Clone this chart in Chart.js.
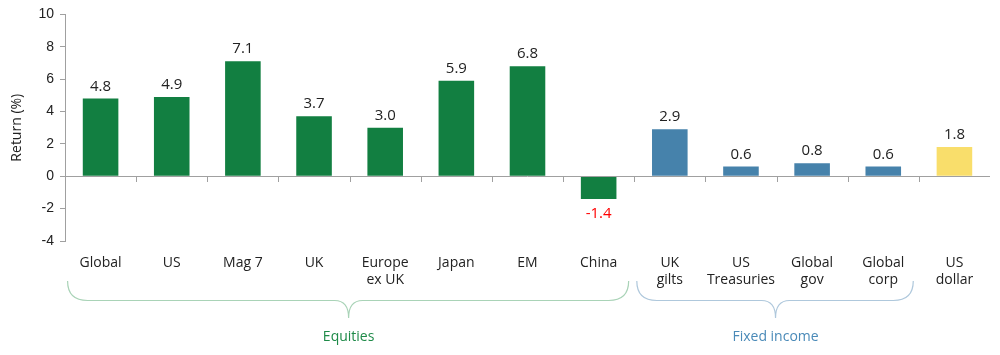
<!DOCTYPE html>
<html>
<head>
<meta charset="utf-8">
<script src="https://cdn.jsdelivr.net/npm/chart.js@4/dist/chart.umd.min.js"></script>
<style>
html,body{margin:0;padding:0;background:#fff;}
#wrap{width:1000px;height:355px;position:relative;}
</style>
</head>
<body>
<div id="wrap"><canvas id="c"></canvas></div>
<script>
const categories = [['Global'], ['US'], ['Mag 7'], ['UK'], ['Europe','ex UK'], ['Japan'], ['EM'], ['China'], ['UK','gilts'], ['US','Treasuries'], ['Global','gov'], ['Global','corp'], ['US','dollar']];
const returns = [4.8, 4.9, 7.1, 3.7, 3.0, 5.9, 6.8, -1.4, 2.9, 0.6, 0.8, 0.6, 1.8];
const barColors = ['#127F41','#127F41','#127F41','#127F41','#127F41','#127F41','#127F41','#127F41','#4682AB','#4682AB','#4682AB','#4682AB','#F9DE6B'];
const yTicks = [10, 8, 6, 4, 2, 0, -2, -4];
const groupLabels = ['Equities', 'Fixed income'];
const groupStart = [0, 8];
const groupEnd = [7, 11];
const groupLabelColors = ['#1E8A48', '#4A8AB8'];
const groupBraceColors = ['#A9D3B7', '#AFC8DC'];

const helperPlugin = {
  id: 'helper',
  afterDatasetsDraw(chart) {
    const ctx = chart.ctx;
    const x = chart.scales.x, y = chart.scales.y;
    const area = chart.chartArea;
    const y0 = y.getPixelForValue(0);
    const step = x.getPixelForValue(1) - x.getPixelForValue(0);
    ctx.save();
    ctx.strokeStyle = '#A0A0A0';
    ctx.lineWidth = 1;
    ctx.beginPath();
    ctx.moveTo(area.left, Math.round(y0) + 0.5);
    ctx.lineTo(area.right, Math.round(y0) + 0.5);
    for (let i = 1; i < categories.length; i++) {
      const bx = Math.round(x.getPixelForValue(i) - step / 2) + 0.5;
      ctx.moveTo(bx, Math.round(y0));
      ctx.lineTo(bx, Math.round(y0) + 6);
    }
    ctx.stroke();
    const meta = chart.getDatasetMeta(0);
    ctx.font = '15px "Open Sans"';
    ctx.textAlign = 'center';
    ctx.textBaseline = 'alphabetic';
    meta.data.forEach((bar, i) => {
      const v = returns[i];
      if (v >= 0) {
        ctx.fillStyle = '#222';
        ctx.fillText(v.toFixed(1), bar.x, bar.y - 8);
      } else {
        ctx.fillStyle = '#FF0000';
        ctx.fillText(v.toFixed(1), bar.x, bar.y + 19);
      }
    });
    const top = 281, mid = 300.5, tip = 318, r = 20, r2 = 14;
    for (let g = 0; g < groupLabels.length; g++) {
      const x1 = x.getPixelForValue(groupStart[g]) - 33;
      const x2 = x.getPixelForValue(groupEnd[g]) + 30;
      const xm = (x.getPixelForValue(groupStart[g]) + x.getPixelForValue(groupEnd[g])) / 2 - 1;
      ctx.strokeStyle = groupBraceColors[g];
      ctx.lineWidth = 1.2;
      ctx.beginPath();
      ctx.moveTo(x1, top);
      ctx.quadraticCurveTo(x1, mid, x1 + r, mid);
      ctx.lineTo(xm - r2, mid);
      ctx.quadraticCurveTo(xm, mid, xm, tip);
      ctx.quadraticCurveTo(xm, mid, xm + r2, mid);
      ctx.lineTo(x2 - r, mid);
      ctx.quadraticCurveTo(x2, mid, x2, top);
      ctx.stroke();
      ctx.fillStyle = groupLabelColors[g];
      ctx.font = '14px "Open Sans"';
      ctx.textBaseline = 'middle';
      ctx.textAlign = 'center';
      ctx.fillText(groupLabels[g], xm, 337);
    }
    ctx.restore();
  }
};

new Chart(document.getElementById('c'), {
  type: 'bar',
  data: {
    labels: categories,
    datasets: [{
      data: returns,
      backgroundColor: barColors,
      borderWidth: 0,
      categoryPercentage: 1,
      barPercentage: 0.5
    }]
  },
  options: {
    responsive: true,
    maintainAspectRatio: false,
    animation: false,
    layout: { padding: { top: 13, right: 10, bottom: 0, left: 0 } },
    plugins: { legend: { display: false }, tooltip: { enabled: false } },
    scales: {
      x: {
        grid: { display: false, drawTicks: false },
        border: { display: false },
        ticks: {
          color: '#222',
          font: { family: 'Open Sans', size: 14 },
          padding: 14,
          maxRotation: 0,
          autoSkip: false
        },
        afterFit(s) { s.height = 114; }
      },
      y: {
        min: -4, max: 10,
        afterBuildTicks(s) { s.ticks = yTicks.map(v => ({ value: v })); },
        grid: { drawOnChartArea: false, drawTicks: true, tickLength: 5, color: '#A0A0A0' },
        border: { display: true, color: '#A0A0A0' },
        ticks: {
          color: '#222',
          font: { family: 'Liberation Sans', size: 14 },
          padding: 6
        },
        title: {
          display: true,
          text: 'Return (%)',
          color: '#222',
          font: { family: 'Open Sans', size: 14 },
          padding: { top: 9, bottom: 6 }
        },
        afterFit(s) { s.width = 65; }
      }
    }
  },
  plugins: [helperPlugin]
});
</script>
</body>
</html>
